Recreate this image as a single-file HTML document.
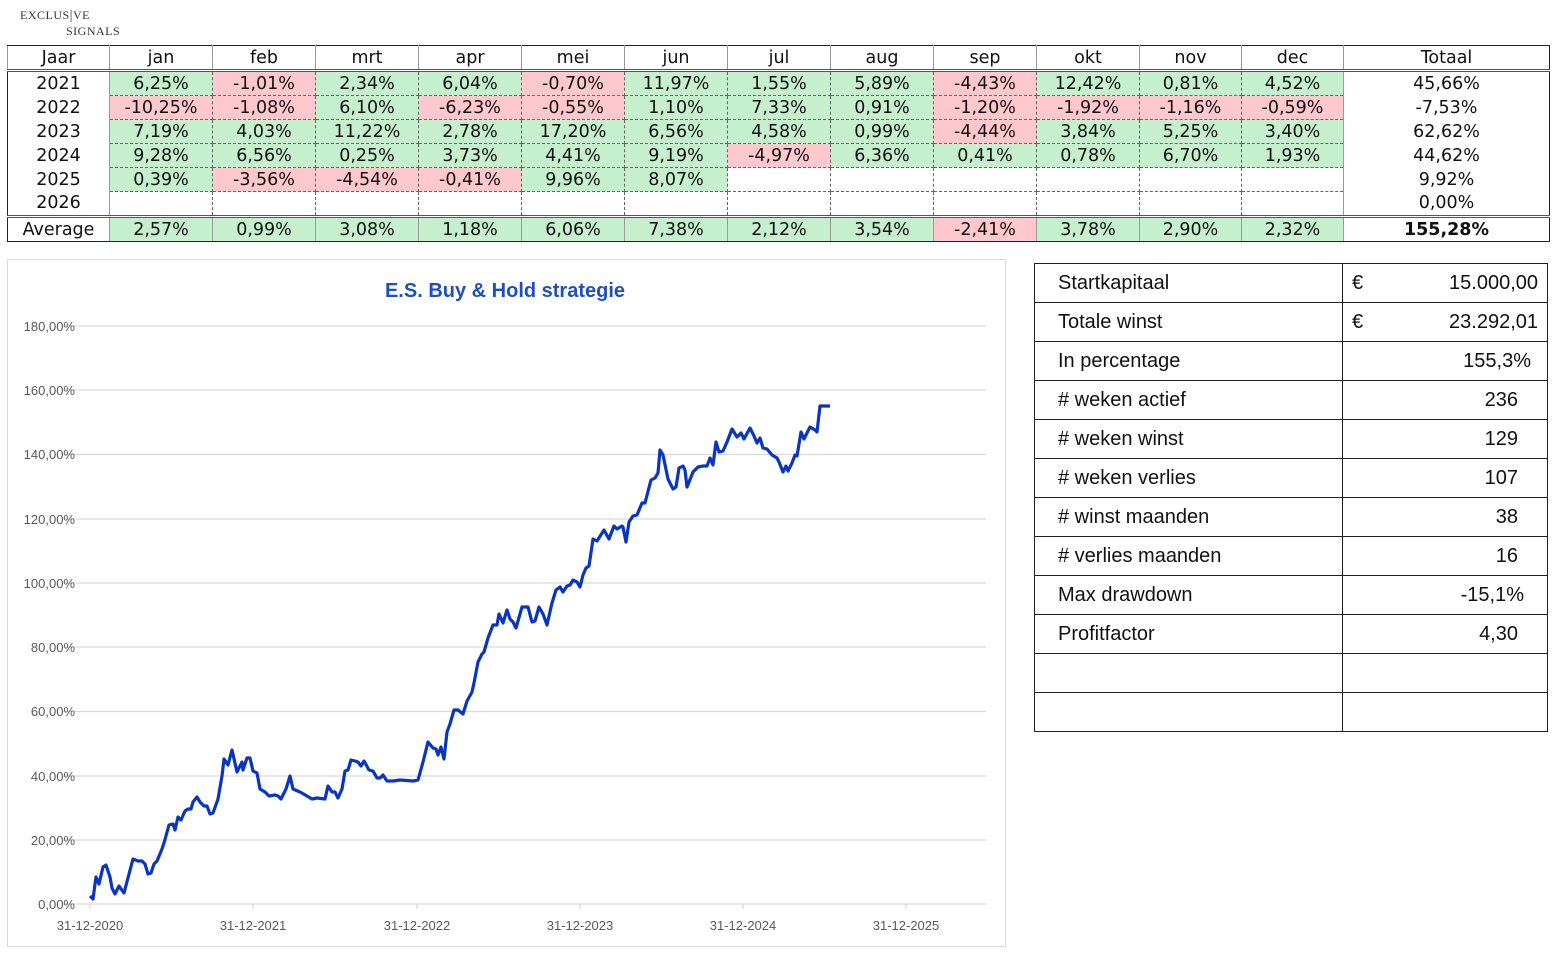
<!DOCTYPE html>
<html><head><meta charset="utf-8"><style>
body{margin:0;width:1561px;height:954px;background:#fff;position:relative;overflow:hidden;font-family:"DejaVu Sans",Verdana,sans-serif}
.logo{position:absolute;left:20px;top:8px;font-family:"Liberation Serif",serif;font-size:12px;color:#333;letter-spacing:0.5px}
table.m{position:absolute;left:7px;top:45px;border-collapse:collapse;table-layout:fixed;font-size:17.5px;color:#111}
table.m td{height:23px;padding:0;text-align:center;border:1px dashed #666;white-space:nowrap;line-height:22px}
table.m tr.h td{border:1px solid #999;border-top:1.5px solid #222;border-bottom:3px double #555}
table.m td.y{border-left:1.5px solid #222;border-right:1px solid #999;border-top:none;border-bottom:none}
table.m td.t{border:none;border-left:1px solid #999;border-right:1.5px solid #222}
table.m tr.a td{border-top:3px double #555;border-bottom:1.5px solid #222;border-left:1px solid #999;border-right:1px solid #999}
table.m tr.a td.y{border-left:1.5px solid #222}
table.m tr.a td.t{border-right:1.5px solid #222;font-weight:bold}
.g{background:#c6efce}.r{background:#ffc7ce}
table.s{position:absolute;left:1034px;top:263px;border-collapse:collapse;table-layout:fixed;font-family:"Liberation Sans",Arial,sans-serif;font-size:20px;color:#111}
table.s td{height:38px;border:1px solid #222;padding:0;white-space:nowrap}
table.s td.l{padding-left:23px}
table.s td.v{text-align:right;padding-right:29px}
.chart{position:absolute;left:7px;top:259px;width:997px;height:686px;border:1px solid #d9d9d9}
</style></head><body>
<div class="logo">EXCLUS<span style="font-size:14px">|</span>VE<br><span style="padding-left:46px">SIGNALS</span></div>
<table class="m">
<colgroup><col style="width:102px"><col style="width:103px"><col style="width:103px"><col style="width:103px"><col style="width:103px"><col style="width:103px"><col style="width:103px"><col style="width:103px"><col style="width:103px"><col style="width:103px"><col style="width:103px"><col style="width:102px"><col style="width:102px"><col style="width:206px"></colgroup>
<tr class="h"><td>Jaar</td><td>jan</td><td>feb</td><td>mrt</td><td>apr</td><td>mei</td><td>jun</td><td>jul</td><td>aug</td><td>sep</td><td>okt</td><td>nov</td><td>dec</td><td style="border-right:1.5px solid #222">Totaal</td></tr>
<tr><td class="y">2021</td><td class="g">6,25%</td><td class="r">-1,01%</td><td class="g">2,34%</td><td class="g">6,04%</td><td class="r">-0,70%</td><td class="g">11,97%</td><td class="g">1,55%</td><td class="g">5,89%</td><td class="r">-4,43%</td><td class="g">12,42%</td><td class="g">0,81%</td><td class="g">4,52%</td><td class="t">45,66%</td></tr>
<tr><td class="y">2022</td><td class="r">-10,25%</td><td class="r">-1,08%</td><td class="g">6,10%</td><td class="r">-6,23%</td><td class="r">-0,55%</td><td class="g">1,10%</td><td class="g">7,33%</td><td class="g">0,91%</td><td class="r">-1,20%</td><td class="r">-1,92%</td><td class="r">-1,16%</td><td class="r">-0,59%</td><td class="t">-7,53%</td></tr>
<tr><td class="y">2023</td><td class="g">7,19%</td><td class="g">4,03%</td><td class="g">11,22%</td><td class="g">2,78%</td><td class="g">17,20%</td><td class="g">6,56%</td><td class="g">4,58%</td><td class="g">0,99%</td><td class="r">-4,44%</td><td class="g">3,84%</td><td class="g">5,25%</td><td class="g">3,40%</td><td class="t">62,62%</td></tr>
<tr><td class="y">2024</td><td class="g">9,28%</td><td class="g">6,56%</td><td class="g">0,25%</td><td class="g">3,73%</td><td class="g">4,41%</td><td class="g">9,19%</td><td class="r">-4,97%</td><td class="g">6,36%</td><td class="g">0,41%</td><td class="g">0,78%</td><td class="g">6,70%</td><td class="g">1,93%</td><td class="t">44,62%</td></tr>
<tr><td class="y">2025</td><td class="g">0,39%</td><td class="r">-3,56%</td><td class="r">-4,54%</td><td class="r">-0,41%</td><td class="g">9,96%</td><td class="g">8,07%</td><td></td><td></td><td></td><td></td><td></td><td></td><td class="t">9,92%</td></tr>
<tr><td class="y">2026</td><td></td><td></td><td></td><td></td><td></td><td></td><td></td><td></td><td></td><td></td><td></td><td></td><td class="t">0,00%</td></tr>
<tr class="a"><td class="y">Average</td><td class="g">2,57%</td><td class="g">0,99%</td><td class="g">3,08%</td><td class="g">1,18%</td><td class="g">6,06%</td><td class="g">7,38%</td><td class="g">2,12%</td><td class="g">3,54%</td><td class="r">-2,41%</td><td class="g">3,78%</td><td class="g">2,90%</td><td class="g">2,32%</td><td class="t">155,28%</td></tr>
</table>
<div class="chart"></div>
<svg style="position:absolute;left:0;top:0" width="1561" height="954">
<text x="505" y="297" text-anchor="middle" font-family="Liberation Sans,sans-serif" font-size="20" font-weight="bold" fill="#1f4fbf">E.S. Buy &amp; Hold strategie</text>
<g stroke="#d9d9d9" stroke-width="1.3">
<line x1="62" x2="986" y1="326" y2="326"/><line x1="62" x2="986" y1="390" y2="390"/><line x1="62" x2="986" y1="454.5" y2="454.5"/><line x1="62" x2="986" y1="519" y2="519"/><line x1="62" x2="986" y1="583" y2="583"/><line x1="62" x2="986" y1="647" y2="647"/><line x1="62" x2="986" y1="711.5" y2="711.5"/><line x1="62" x2="986" y1="776" y2="776"/><line x1="62" x2="986" y1="840" y2="840"/><line x1="62" x2="986" y1="904" y2="904"/>
<line x1="90" x2="90" y1="904" y2="909"/><line x1="253" x2="253" y1="904" y2="909"/><line x1="417" x2="417" y1="904" y2="909"/><line x1="580" x2="580" y1="904" y2="909"/><line x1="743" x2="743" y1="904" y2="909"/><line x1="906" x2="906" y1="904" y2="909"/>
</g>
<g font-family="Liberation Sans,sans-serif" font-size="13" fill="#595959" text-anchor="end">
<text x="75" y="331">180,00%</text><text x="75" y="395">160,00%</text><text x="75" y="459">140,00%</text><text x="75" y="524">120,00%</text><text x="75" y="588">100,00%</text><text x="75" y="652">80,00%</text><text x="75" y="716">60,00%</text><text x="75" y="781">40,00%</text><text x="75" y="845">20,00%</text><text x="75" y="909">0,00%</text>
</g>
<g font-family="Liberation Sans,sans-serif" font-size="13" fill="#595959" text-anchor="middle">
<text x="90" y="930">31-12-2020</text><text x="253" y="930">31-12-2021</text><text x="417" y="930">31-12-2022</text><text x="580" y="930">31-12-2023</text><text x="743" y="930">31-12-2024</text><text x="906" y="930">31-12-2025</text>
</g>
<polyline fill="none" stroke="#0a35c0" stroke-width="3.2" stroke-linejoin="round" points="90,913 93,916 96,894 99,901 103,884 106,882 110,894 112,905 115,911 119,903 124,910 133,876 138,878 142,878 145,881 148,891 151,890 154,881 157,878 162,866 164,860 169,842 173,841 175,847 178,834 181,837 185,828 188,826 191,826 193,819 197,814 200,819 204,823 207,823 210,831 213,830 218,816 222,793 224,776 228,782 232,767 237,789 242,779 243,787 247,775 250,775 253,788 257,790 260,806 265,809 269,813 275,812 278,813 281,816 286,806 290,793 293,806 300,809 307,813 312,816 317,815 325,816 328,803 332,809 335,809 338,815 342,806 345,788 348,787 351,777 355,778 358,779 361,783 364,778 369,787 373,788 377,795 380,795 383,792 387,798 393,798 400,797 413,798 418,797 423,779 428,759 433,765 436,766 438,772 441,764 444,776 447,749 450,741 454,727 458,727 463,731 467,718 472,709 474,700 478,679 482,671 484,669 488,655 493,642 497,642 499,631 503,640 507,627 510,636 513,639 516,645 522,624 525,624 528,624 532,639 535,638 539,624 543,631 547,642 552,620 556,607 560,604 563,609 567,603 570,602 573,597 577,599 580,604 583,592 586,585 589,583 593,556 597,558 604,547 609,556 614,543 617,546 622,543 623,544 626,559 629,539 633,533 637,532 642,520 645,520 651,497 655,495 658,490 660,467 663,472 668,496 673,506 676,504 679,485 683,483 685,487 687,504 693,489 698,484 703,483 707,483 710,475 713,482 716,459 719,469 723,468 727,459 732,446 737,454 741,450 744,456 750,445 754,453 757,460 760,455 763,465 767,466 772,472 777,475 779,479 783,489 786,483 788,488 792,480 795,472 797,473 801,449 804,456 810,444 815,447 817,449 820,423 830,423" transform="translate(0,-17)"/>
</svg>
<table class="s">
<colgroup><col style="width:308px"><col style="width:205px"></colgroup>
<tr><td class="l">Startkapitaal</td><td class="v" style="position:relative;padding-right:9px"><span style="position:absolute;left:9px;top:8px">€</span>15.000,00</td></tr>
<tr><td class="l">Totale winst</td><td class="v" style="position:relative;padding-right:9px"><span style="position:absolute;left:9px;top:8px">€</span>23.292,01</td></tr>
<tr><td class="l">In percentage</td><td class="v" style="padding-right:16px">155,3%</td></tr>
<tr><td class="l"># weken actief</td><td class="v">236</td></tr>
<tr><td class="l"># weken winst</td><td class="v">129</td></tr>
<tr><td class="l"># weken verlies</td><td class="v">107</td></tr>
<tr><td class="l"># winst maanden</td><td class="v">38</td></tr>
<tr><td class="l"># verlies maanden</td><td class="v">16</td></tr>
<tr><td class="l">Max drawdown</td><td class="v" style="padding-right:23px">-15,1%</td></tr>
<tr><td class="l">Profitfactor</td><td class="v">4,30</td></tr>
<tr><td></td><td></td></tr>
<tr><td></td><td></td></tr>
</table>
</body></html>
